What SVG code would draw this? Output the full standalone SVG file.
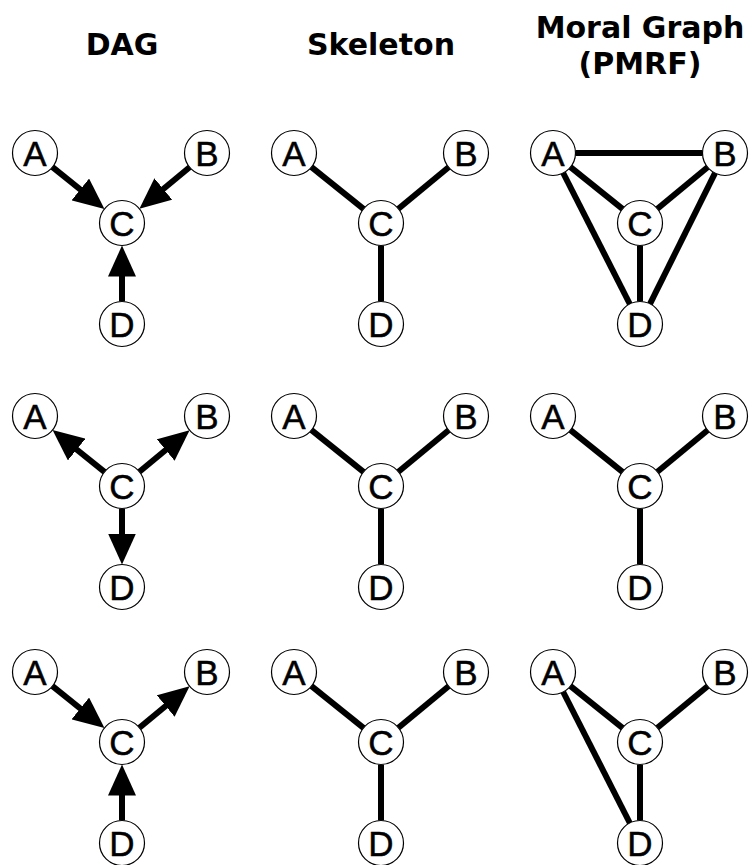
<svg xmlns="http://www.w3.org/2000/svg" width="750" height="865" viewBox="0 0 750 865">
<style>
.title{font-family:"DejaVu Sans",Verdana,sans-serif;font-weight:bold;font-size:30px;text-anchor:middle;fill:#000}
.node circle{fill:#fff;stroke:#000;stroke-width:1.2}
.node text{font-family:"Liberation Sans",Arial,sans-serif;font-size:35px;text-anchor:middle;fill:#000;stroke:#000;stroke-width:0.5}
.edge{stroke:#000;stroke-width:6;fill:none}
.arrow{marker-end:url(#arr)}
</style>
<defs>
<marker id="arr" markerUnits="userSpaceOnUse" markerWidth="31" markerHeight="28" refX="20" refY="14" orient="auto" viewBox="0 0 31 28"><path d="M0,0 L31,14 L0,28 z" fill="#000"/></marker>
</defs>
<rect width="750" height="865" fill="#fff"/>
<g id="titles">
<text class="title" x="122" y="55">DAG</text>
<text class="title" x="381" y="55">Skeleton</text>
<text class="title" x="640" y="38">Moral Graph</text>
<text class="title" x="640" y="74">(PMRF)</text>
</g>
<g id="connectors">
<g transform="translate(0,153)">
<path class="edge arrow" d="M52.5,14.1 L95.9,49.0"/>
<path class="edge arrow" d="M189.6,14.3 L147.9,48.7"/>
<path class="edge arrow" d="M122,148.5 L122,103.5"/>
</g>
<g transform="translate(259,153)">
<path class="edge" d="M52.5,14.1 L104.5,55.9"/>
<path class="edge" d="M189.6,14.3 L139.4,55.7"/>
<path class="edge" d="M122,92.5 L122,148.5"/>
</g>
<g transform="translate(518,153)">
<path class="edge" d="M57.5,0 L184.5,0"/>
<path class="edge" d="M52.5,14.1 L104.5,55.9"/>
<path class="edge" d="M189.6,14.3 L139.4,55.7"/>
<path class="edge" d="M122,92.5 L122,148.5"/>
<path class="edge" d="M45.2,20 L111.8,151"/>
<path class="edge" d="M197,20.1 L132,150.9"/>
</g>
<g transform="translate(0,416)">
<path class="edge arrow" d="M104.5,55.9 L61.1,21"/>
<path class="edge arrow" d="M139.4,55.7 L181.1,21.3"/>
<path class="edge arrow" d="M122,92.5 L122,137.5"/>
</g>
<g transform="translate(259,416)">
<path class="edge" d="M52.5,14.1 L104.5,55.9"/>
<path class="edge" d="M189.6,14.3 L139.4,55.7"/>
<path class="edge" d="M122,92.5 L122,148.5"/>
</g>
<g transform="translate(518,416)">
<path class="edge" d="M52.5,14.1 L104.5,55.9"/>
<path class="edge" d="M189.6,14.3 L139.4,55.7"/>
<path class="edge" d="M122,92.5 L122,148.5"/>
</g>
<g transform="translate(0,672)">
<path class="edge arrow" d="M52.5,14.1 L95.9,49.0"/>
<path class="edge arrow" d="M139.4,55.7 L181.1,21.3"/>
<path class="edge arrow" d="M122,148.5 L122,103.5"/>
</g>
<g transform="translate(259,672)">
<path class="edge" d="M52.5,14.1 L104.5,55.9"/>
<path class="edge" d="M189.6,14.3 L139.4,55.7"/>
<path class="edge" d="M122,92.5 L122,148.5"/>
</g>
<g transform="translate(518,672)">
<path class="edge" d="M52.5,14.1 L104.5,55.9"/>
<path class="edge" d="M189.6,14.3 L139.4,55.7"/>
<path class="edge" d="M122,92.5 L122,148.5"/>
<path class="edge" d="M45.2,20 L111.8,151"/>
</g>
</g>
<g transform="translate(0,153)">
<g id="dag1-A" class="node"><circle cx="35" cy="0" r="22.5"/><text x="35" y="12.5">A</text></g>
<g id="dag1-B" class="node"><circle cx="207" cy="0" r="22.5"/><text x="207" y="12.5">B</text></g>
<g id="dag1-C" class="node"><circle cx="122" cy="70" r="22.5"/><text x="122" y="82.5">C</text></g>
<g id="dag1-D" class="node"><circle cx="122" cy="171" r="22.5"/><text x="122" y="183.5">D</text></g>
</g>
<g transform="translate(259,153)">
<g id="skel1-A" class="node"><circle cx="35" cy="0" r="22.5"/><text x="35" y="12.5">A</text></g>
<g id="skel1-B" class="node"><circle cx="207" cy="0" r="22.5"/><text x="207" y="12.5">B</text></g>
<g id="skel1-C" class="node"><circle cx="122" cy="70" r="22.5"/><text x="122" y="82.5">C</text></g>
<g id="skel1-D" class="node"><circle cx="122" cy="171" r="22.5"/><text x="122" y="183.5">D</text></g>
</g>
<g transform="translate(518,153)">
<g id="moral1-A" class="node"><circle cx="35" cy="0" r="22.5"/><text x="35" y="12.5">A</text></g>
<g id="moral1-B" class="node"><circle cx="207" cy="0" r="22.5"/><text x="207" y="12.5">B</text></g>
<g id="moral1-C" class="node"><circle cx="122" cy="70" r="22.5"/><text x="122" y="82.5">C</text></g>
<g id="moral1-D" class="node"><circle cx="122" cy="171" r="22.5"/><text x="122" y="183.5">D</text></g>
</g>
<g transform="translate(0,416)">
<g id="dag2-A" class="node"><circle cx="35" cy="0" r="22.5"/><text x="35" y="12.5">A</text></g>
<g id="dag2-B" class="node"><circle cx="207" cy="0" r="22.5"/><text x="207" y="12.5">B</text></g>
<g id="dag2-C" class="node"><circle cx="122" cy="70" r="22.5"/><text x="122" y="82.5">C</text></g>
<g id="dag2-D" class="node"><circle cx="122" cy="171" r="22.5"/><text x="122" y="183.5">D</text></g>
</g>
<g transform="translate(259,416)">
<g id="skel2-A" class="node"><circle cx="35" cy="0" r="22.5"/><text x="35" y="12.5">A</text></g>
<g id="skel2-B" class="node"><circle cx="207" cy="0" r="22.5"/><text x="207" y="12.5">B</text></g>
<g id="skel2-C" class="node"><circle cx="122" cy="70" r="22.5"/><text x="122" y="82.5">C</text></g>
<g id="skel2-D" class="node"><circle cx="122" cy="171" r="22.5"/><text x="122" y="183.5">D</text></g>
</g>
<g transform="translate(518,416)">
<g id="moral2-A" class="node"><circle cx="35" cy="0" r="22.5"/><text x="35" y="12.5">A</text></g>
<g id="moral2-B" class="node"><circle cx="207" cy="0" r="22.5"/><text x="207" y="12.5">B</text></g>
<g id="moral2-C" class="node"><circle cx="122" cy="70" r="22.5"/><text x="122" y="82.5">C</text></g>
<g id="moral2-D" class="node"><circle cx="122" cy="171" r="22.5"/><text x="122" y="183.5">D</text></g>
</g>
<g transform="translate(0,672)">
<g id="dag3-A" class="node"><circle cx="35" cy="0" r="22.5"/><text x="35" y="12.5">A</text></g>
<g id="dag3-B" class="node"><circle cx="207" cy="0" r="22.5"/><text x="207" y="12.5">B</text></g>
<g id="dag3-C" class="node"><circle cx="122" cy="70" r="22.5"/><text x="122" y="82.5">C</text></g>
<g id="dag3-D" class="node"><circle cx="122" cy="171" r="22.5"/><text x="122" y="183.5">D</text></g>
</g>
<g transform="translate(259,672)">
<g id="skel3-A" class="node"><circle cx="35" cy="0" r="22.5"/><text x="35" y="12.5">A</text></g>
<g id="skel3-B" class="node"><circle cx="207" cy="0" r="22.5"/><text x="207" y="12.5">B</text></g>
<g id="skel3-C" class="node"><circle cx="122" cy="70" r="22.5"/><text x="122" y="82.5">C</text></g>
<g id="skel3-D" class="node"><circle cx="122" cy="171" r="22.5"/><text x="122" y="183.5">D</text></g>
</g>
<g transform="translate(518,672)">
<g id="moral3-A" class="node"><circle cx="35" cy="0" r="22.5"/><text x="35" y="12.5">A</text></g>
<g id="moral3-B" class="node"><circle cx="207" cy="0" r="22.5"/><text x="207" y="12.5">B</text></g>
<g id="moral3-C" class="node"><circle cx="122" cy="70" r="22.5"/><text x="122" y="82.5">C</text></g>
<g id="moral3-D" class="node"><circle cx="122" cy="171" r="22.5"/><text x="122" y="183.5">D</text></g>
</g>
</svg>
